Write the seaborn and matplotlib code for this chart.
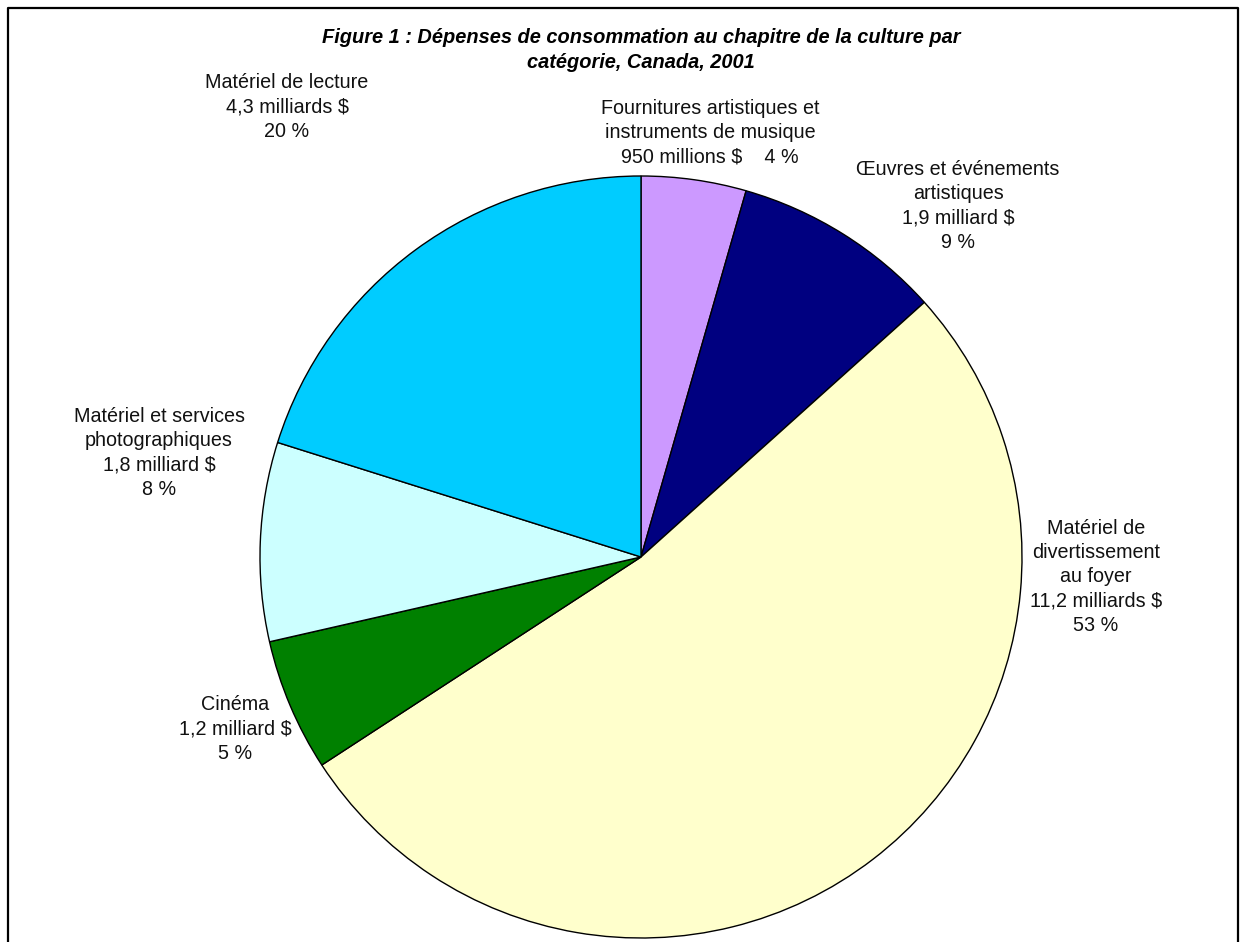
import matplotlib
matplotlib.use("Agg")
import matplotlib.pyplot as plt
import seaborn as sns

sns.set_theme(style="white")
plt.rcParams['font.family'] = ['Liberation Sans', 'DejaVu Sans']

# Categories (clockwise from 12 o'clock) and spending in billions of $
categories = [
    "Fournitures artistiques et\ninstruments de musique",
    "Œuvres et événements\nartistiques",
    "Matériel de\ndivertissement\nau foyer",
    "Cinéma",
    "Matériel et services\nphotographiques",
    "Matériel de lecture",
]
amount_labels = ["950 millions $", "1,9 milliard $", "11,2 milliards $",
                 "1,2 milliard $", "1,8 milliard $", "4,3 milliards $"]
values = [0.95, 1.9, 11.2, 1.2, 1.8, 4.3]
percent_labels = ["4 %", "9 %", "53 %", "5 %", "8 %", "20 %"]
colors = ["#CC99FF", "#000080", "#FFFFCC", "#008000", "#CCFFFF", "#00CCFF"]

W, H = 1247, 942
fig = plt.figure(figsize=(W / 100, H / 100), dpi=100)

# pie centre (641, 557) px, radius 381 px
cx, cy, r = 641, 557, 381
ax = fig.add_axes([(cx - r) / W, (H - cy - r) / H, 2 * r / W, 2 * r / H])
ax.pie(values, colors=colors, startangle=90, counterclock=False,
       wedgeprops=dict(edgecolor="black", linewidth=1.0), radius=1)
ax.set_xlim(-1, 1)
ax.set_ylim(-1, 1)
ax.set_aspect("equal")
ax.axis("off")

# label centres in pixels (x, y of the text block centre)
label_pos = [(710, 133), (958, 206), (1096, 577), (235, 729), (159, 453), (287, 107)]
for i, (px, py) in enumerate(label_pos):
    if i == 0:
        txt = f"{categories[i]}\n{amount_labels[i]}    {percent_labels[i]}"
    else:
        txt = f"{categories[i]}\n{amount_labels[i]}\n{percent_labels[i]}"
    fig.text(px / W, 1 - py / H, txt, ha="center", va="center",
             fontsize=14.2, linespacing=1.36, color="#111111")

fig.text(641 / W, 1 - 50 / H,
         "Figure 1 : Dépenses de consommation au chapitre de la culture par\ncatégorie, Canada, 2001",
         ha="center", va="center", fontsize=14.4, fontweight="bold", fontstyle="italic",
         linespacing=1.45, color="black")

# frame (left, top, right; bottom open)
frame_x = [8 / W, 8 / W, 1238 / W, 1238 / W]
frame_y = [0, 1 - 8 / H, 1 - 8 / H, 0]
fig.add_artist(plt.Line2D(frame_x, frame_y, color="black", linewidth=1.6,
                          transform=fig.transFigure))

fig.savefig("out.png", dpi=100)
